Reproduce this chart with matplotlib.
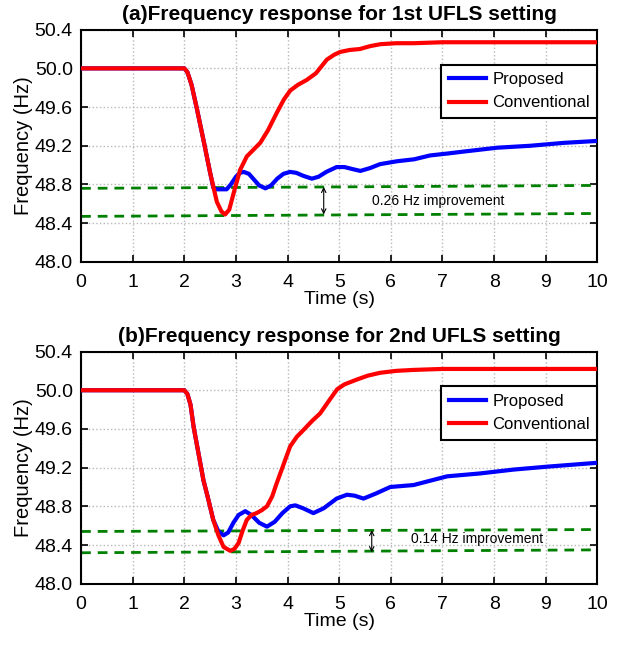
import numpy as np
import matplotlib
matplotlib.use("Agg")
import matplotlib.pyplot as plt

plt.rcParams['font.family'] = ['Liberation Sans', 'DejaVu Sans']

# ---- panel (a): 1st UFLS setting ----
t_a_conv = [0, 2.0, 2.06, 2.14, 2.24, 2.37, 2.5, 2.63, 2.72, 2.79, 2.87, 2.97, 3.08, 3.21, 3.34,
            3.47, 3.62, 3.79, 3.93, 4.05, 4.2, 4.37, 4.55, 4.76, 4.9, 5.02, 5.2, 5.4, 5.6,
            5.8, 6.1, 6.44, 7.0, 7.4, 8.0, 9.0, 10.0]
f_a_conv = [50.0, 50.0, 49.96, 49.83, 49.59, 49.26, 48.92, 48.62, 48.52, 48.49, 48.54, 48.74, 48.95,
            49.09, 49.16, 49.23, 49.36, 49.54, 49.68, 49.77, 49.83, 49.88, 49.95, 50.09, 50.14,
            50.17, 50.19, 50.20, 50.23, 50.25, 50.26, 50.26, 50.27, 50.27, 50.27, 50.27, 50.27]

t_a_prop = [0, 2.0, 2.06, 2.14, 2.24, 2.37, 2.5, 2.56, 2.62, 2.72, 2.82, 2.9, 3.0, 3.08, 3.15, 3.25,
            3.35, 3.45, 3.57, 3.68, 3.8, 3.92, 4.05, 4.17, 4.3, 4.47, 4.6, 4.75, 4.95, 5.1,
            5.25, 5.41, 5.6, 5.79, 6.12, 6.45, 6.76, 7.1, 7.41, 8.06, 8.7, 9.35, 10.0]
f_a_prop = [50.0, 50.0, 49.96, 49.83, 49.59, 49.26, 48.92, 48.77, 48.75, 48.75, 48.75, 48.80, 48.88,
            48.92, 48.93, 48.91, 48.85, 48.79, 48.76, 48.79, 48.86, 48.91, 48.93, 48.92, 48.89,
            48.86, 48.88, 48.93, 48.98, 48.98, 48.96, 48.94, 48.97, 49.01, 49.04, 49.06, 49.10,
            49.12, 49.14, 49.18, 49.20, 49.23, 49.25]

ref_a_hi = [48.76, 48.79]
ref_a_lo = [48.47, 48.50]

# ---- panel (b): 2nd UFLS setting ----
t_b_conv = [0, 2.0, 2.06, 2.12, 2.18, 2.28, 2.37, 2.47, 2.56, 2.66, 2.76, 2.89, 2.97, 3.05, 3.13,
            3.21, 3.3, 3.4, 3.5, 3.6, 3.7, 3.79, 3.92, 4.05, 4.18, 4.31, 4.47, 4.63, 4.8,
            4.96, 5.1, 5.34, 5.55, 5.79, 6.1, 6.44, 7.0, 7.41, 8.0, 9.0, 10.0]
f_b_conv = [50.0, 50.0, 49.96, 49.85, 49.62, 49.33, 49.07, 48.86, 48.66, 48.50, 48.38, 48.34, 48.36,
            48.42, 48.55, 48.66, 48.71, 48.73, 48.76, 48.80, 48.90, 49.04, 49.23, 49.42, 49.52,
            49.59, 49.68, 49.76, 49.89, 50.01, 50.06, 50.11, 50.15, 50.18, 50.20, 50.21, 50.22,
            50.22, 50.22, 50.22, 50.22]

t_b_prop = [0, 2.0, 2.06, 2.12, 2.18, 2.28, 2.37, 2.47, 2.56, 2.66, 2.76, 2.85, 2.95, 3.05, 3.18,
            3.3, 3.45, 3.6, 3.75, 3.9, 4.05, 4.15, 4.3, 4.5, 4.7, 4.95, 5.15, 5.3, 5.47, 5.7,
            5.99, 6.44, 7.09, 7.73, 8.38, 9.03, 10.0]
f_b_prop = [50.0, 50.0, 49.96, 49.85, 49.62, 49.33, 49.07, 48.86, 48.66, 48.54, 48.50, 48.53, 48.63,
            48.71, 48.75, 48.71, 48.63, 48.59, 48.64, 48.73, 48.80, 48.81, 48.78, 48.73, 48.78,
            48.88, 48.92, 48.91, 48.88, 48.93, 49.00, 49.02, 49.11, 49.14, 49.18, 49.21, 49.25]

ref_b_hi = [48.54, 48.56]
ref_b_lo = [48.32, 48.35]

t_ref = [0, 10]

panels = [
    dict(title='(a)Frequency response for 1st UFLS setting',
         tp=t_a_prop, fp=f_a_prop, tc=t_a_conv, fc=f_a_conv,
         hi=ref_a_hi, lo=ref_a_lo, arrow_t=4.70, arrow=(48.775, 48.49),
         text='0.26 Hz improvement', text_xy=(5.63, 48.625)),
    dict(title='(b)Frequency response for 2nd UFLS setting',
         tp=t_b_prop, fp=f_b_prop, tc=t_b_conv, fc=f_b_conv,
         hi=ref_b_hi, lo=ref_b_lo, arrow_t=5.63, arrow=(48.555, 48.325),
         text='0.14 Hz improvement', text_xy=(6.40, 48.46)),
]

fig = plt.figure(figsize=(6.19, 6.45), dpi=100)
positions = [[0.131, 0.594, 0.834, 0.360], [0.131, 0.095, 0.834, 0.360]]

for pos, p in zip(positions, panels):
    ax = fig.add_axes(pos)
    ax.plot(t_ref, p['hi'], color='#008000', lw=2.0, dashes=(3.5, 2.5), zorder=2)
    ax.plot(t_ref, p['lo'], color='#008000', lw=2.0, dashes=(3.5, 2.5), zorder=2)
    ax.plot(p['tp'], p['fp'], color='#0000ff', lw=3, label='Proposed', zorder=3)
    ax.plot(p['tc'], p['fc'], color='#ff0000', lw=3, label='Conventional', zorder=4)

    ax.annotate('', xy=(p['arrow_t'], p['arrow'][1]), xytext=(p['arrow_t'], p['arrow'][0]),
                arrowprops=dict(arrowstyle='<->', color='black', lw=0.8,
                                mutation_scale=8, shrinkA=0, shrinkB=0), zorder=5)
    ax.text(p['text_xy'][0], p['text_xy'][1], p['text'], fontsize=10, va='center', ha='left')

    ax.set_xlim(0, 10)
    ax.set_ylim(48.0, 50.4)
    ax.set_xticks(np.arange(0, 11, 1))
    ax.set_yticks(np.arange(48.0, 50.41, 0.4))
    ax.set_yticklabels([f'{v:.1f}' for v in np.arange(48.0, 50.41, 0.4)])
    ax.grid(True, linestyle=':', color='#b8b8b8', lw=1.0)
    ax.tick_params(direction='in', top=True, right=True, length=5, width=1.2,
                   labelsize=14, pad=6)
    ax.tick_params(axis='x', pad=9)
    for s in ax.spines.values():
        s.set_linewidth(1.5)
    ax.set_title(p['title'], fontsize=15, fontweight='bold', pad=7)
    ax.set_xlabel('Time (s)', fontsize=14, labelpad=0)
    ax.set_ylabel('Frequency (Hz)', fontsize=14.5, labelpad=1)

    leg = ax.legend(loc='upper right', bbox_to_anchor=(1.0, 0.85), fontsize=12,
                    fancybox=False, framealpha=1, edgecolor='black',
                    handlelength=2.2, handletextpad=0.4, borderpad=0.45,
                    labelspacing=0.5, borderaxespad=0)
    leg.get_frame().set_linewidth(1.5)

fig.savefig('out.png', dpi=100)
